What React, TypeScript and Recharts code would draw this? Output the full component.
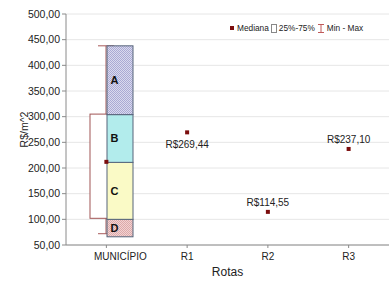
import React from "react";
import { ComposedChart, Bar, Scatter, XAxis, YAxis, CartesianGrid, Label } from "recharts";

const categories = ["MUNICÍPIO", "R1", "R2", "R3"];
const medians = [212, 269.44, 114.55, 237.1];
const medianLabels = ["", "R$269,44", "R$114,55", "R$237,10"];
const boxLow = [102, null, null, null];
const boxHigh = [305, null, null, null];
const minValues = [72, null, null, null];
const maxValues = [438, null, null, null];
const segmentNames = ["D", "C", "B", "A"];
const segmentLow = [66, 100, 211, 304];
const segmentHigh = [100, 211, 304, 438];
const yTicks = [50, 100, 150, 200, 250, 300, 350, 400, 450, 500];

const FONT = '"Liberation Sans", Arial, sans-serif';
const SEG_SHIFT = 14;
const LABEL_BELOW = new Set(["R1"]);
const SEG_FILLS: Record<string, string> = {
  A: "url(#patA)",
  B: "#b2ecec",
  C: "#fafac6",
  D: "url(#patD)",
};

const data = categories.map((cat, i) => {
  const row: any = {
    cat,
    median: medians[i],
    label: medianLabels[i],
    box: boxLow[i] != null ? [boxLow[i], boxHigh[i]] : null,
    whisker: minValues[i] != null ? [minValues[i], maxValues[i]] : null,
  };
  segmentNames.forEach((n, k) => {
    row["seg" + n] = i === 0 ? [segmentLow[k], segmentHigh[k]] : null;
  });
  return row;
});

const WhiskerShape = (p: any) => {
  const { x, y, width, height } = p;
  if (!height || isNaN(height)) return null;
  const cx = x + width / 2;
  return (
    <g stroke="#a85a5a" strokeWidth={1}>
      <line x1={cx} x2={cx} y1={y} y2={y + height} />
      <line x1={x} x2={x + width} y1={y} y2={y} />
      <line x1={x} x2={x + width} y1={y + height} y2={y + height} />
    </g>
  );
};

const BoxShape = (p: any) => {
  const { x, y, width, height } = p;
  if (!height || isNaN(height)) return null;
  return <rect x={x} y={y} width={width} height={height} fill="#ffffff" stroke="#a05454" strokeWidth={1} />;
};

const makeSegShape = (name: string) => (p: any) => {
  const { x, y, width, height } = p;
  if (!height || isNaN(height)) return null;
  const sx = x + SEG_SHIFT;
  return (
    <g>
      <rect x={sx} y={y} width={width} height={height} fill={SEG_FILLS[name]} stroke="#56647a" strokeWidth={1} />
      <text x={sx + 7.5} y={y + height / 2} dominantBaseline="central" textAnchor="middle" fontSize={11} fontWeight="bold" fill="#111" fontFamily={FONT}>
        {name}
      </text>
    </g>
  );
};

const MedianShape = (p: any) => {
  const { cx, cy, payload } = p;
  if (cx == null || cy == null) return null;
  const below = LABEL_BELOW.has(payload.cat);
  return (
    <g>
      <rect x={cx - 2} y={cy - 2} width={4} height={4} fill="#7b0d0d" />
      {payload.label ? (
        <text x={cx} y={below ? cy + 16 : cy - 6} textAnchor="middle" fontSize={10} fill="#222" fontFamily={FONT}>
          {payload.label}
        </text>
      ) : null}
    </g>
  );
};

const XTick = (p: any) => {
  const { x, y, payload } = p;
  const dx = payload.value === categories[0] ? SEG_SHIFT : 0;
  return (
    <text x={x + dx} y={y} dy="0.71em" textAnchor="middle" fontSize={10} fill="#222" fontFamily={FONT}>
      {payload.value}
    </text>
  );
};

const fmt = (v: number) => v.toFixed(2).replace(".", ",");

export default function App() {
  const hiddenAxes = ["wh", "bx", "sA", "sB", "sC", "sD"];
  return (
    <div style={{ position: "absolute", left: 0, top: 0, width: 389, height: 282, background: "#fff", fontFamily: FONT }}>
      <ComposedChart width={389} height={282} data={data} margin={{ top: 14, right: 0, bottom: 0, left: 0 }}>
        <defs>
          <pattern id="patA" width="2" height="2" patternUnits="userSpaceOnUse">
            <rect width="2" height="2" fill="#dadaee" />
            <rect width="1" height="1" fill="#aaaad4" />
            <rect x="1" y="1" width="1" height="1" fill="#aaaad4" />
          </pattern>
          <pattern id="patD" width="2" height="2" patternUnits="userSpaceOnUse">
            <rect width="2" height="2" fill="#f2d2d2" />
            <rect width="1" height="1" fill="#dcaaaa" />
            <rect x="1" y="1" width="1" height="1" fill="#dcaaaa" />
          </pattern>
        </defs>
        <CartesianGrid vertical={false} stroke="#e6e6e6" />
        <XAxis
          xAxisId="main"
          dataKey="cat"
          type="category"
          height={37}
          tickSize={3}
          tickMargin={5}
          stroke="#8a8a8a"
          tick={<XTick />}
          interval={0}
        >
          <Label value="Rotas" position="insideBottom" offset={6} fontSize={12} fill="#222" fontFamily={FONT} />
        </XAxis>
        <XAxis
          xAxisId="top"
          dataKey="cat"
          type="category"
          orientation="top"
          height={0}
          tick={false}
          tickSize={-3}
          stroke="#8a8a8a"
          interval={0}
        />
        {hiddenAxes.map((id) => (
          <XAxis key={id} xAxisId={id} dataKey="cat" type="category" orientation="top" height={0} hide />
        ))}
        <YAxis
          domain={[50, 500]}
          ticks={yTicks}
          width={66}
          tickSize={4}
          tickMargin={2}
          stroke="#8a8a8a"
          tickFormatter={fmt}
          tick={{ fontSize: 10.5, fill: "#222", fontFamily: FONT }}
          interval={0}
          allowDataOverflow
        >
          <Label value="R$/m^2" angle={-90} position="insideLeft" offset={24} style={{ textAnchor: "middle" }} fontSize={10.5} fill="#222" fontFamily={FONT} />
        </YAxis>
        <Bar xAxisId="wh" dataKey="whisker" barSize={16} shape={WhiskerShape} isAnimationActive={false} />
        <Bar xAxisId="bx" dataKey="box" barSize={32} shape={BoxShape} isAnimationActive={false} />
        {segmentNames.map((n) => (
          <Bar key={n} xAxisId={"s" + n} dataKey={"seg" + n} barSize={26} shape={makeSegShape(n)} isAnimationActive={false} />
        ))}
        <Scatter xAxisId="main" dataKey="median" shape={MedianShape} isAnimationActive={false} />
      </ComposedChart>
      <div
        style={{
          position: "absolute",
          left: 230,
          top: 23,
          height: 10,
          display: "flex",
          alignItems: "center",
          fontSize: 8.3,
          lineHeight: "10px",
          color: "#222",
          whiteSpace: "nowrap",
        }}
      >
        <span style={{ display: "inline-block", width: 4, height: 4, background: "#7b0d0d", marginRight: 3 }} />
        <span>Mediana</span>
        <span style={{ display: "inline-block", width: 4, height: 7, border: "1px solid #888", marginLeft: 2, marginRight: 2 }} />
        <span>25%-75%</span>
        <svg width={8} height={9} style={{ marginLeft: 2, marginRight: 2 }}>
          <g stroke="#c05a5a" strokeWidth={1}>
            <line x1={1} x2={7} y1={0.5} y2={0.5} />
            <line x1={4} x2={4} y1={0.5} y2={8.5} />
            <line x1={1} x2={7} y1={8.5} y2={8.5} />
          </g>
        </svg>
        <span>Min - Max</span>
      </div>
    </div>
  );
}
